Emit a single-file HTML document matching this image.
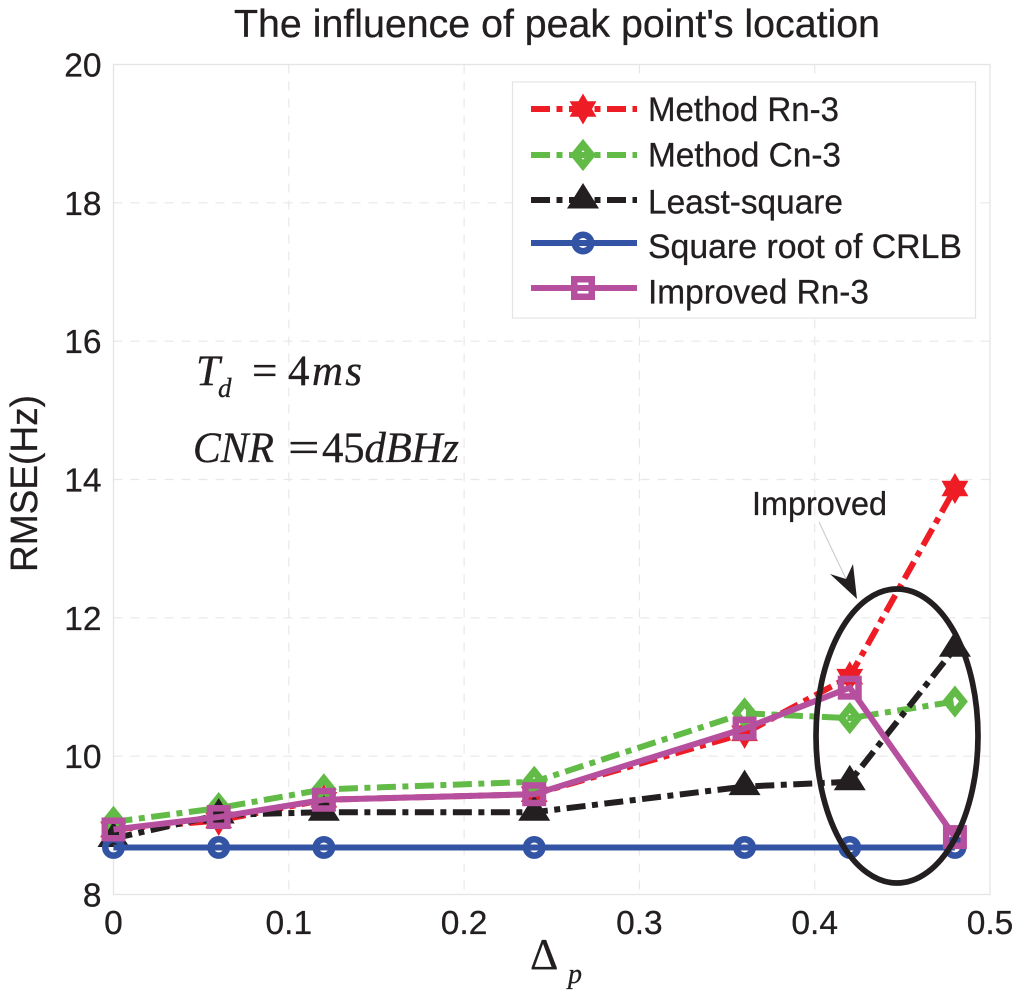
<!DOCTYPE html>
<html lang="en">
<head>
<meta charset="utf-8">
<title>The influence of peak point's location</title>
<style>
html,body{margin:0;padding:0;background:#fff;}
svg{display:block;}
text{font-family:"Liberation Sans",sans-serif;fill:#231f20;stroke:#231f20;stroke-width:0.3px;}
.math{font-family:"Liberation Serif",serif;font-style:italic;}
.up{font-family:"Liberation Serif",serif;font-style:normal;}
</style>
</head>
<body>
<svg id="chart" xmlns="http://www.w3.org/2000/svg" width="1024" height="997" viewBox="0 0 1024 997">
  <g id="grid"></g>
  <rect x="113.5" y="64.5" width="876.5" height="830" fill="none" stroke="#e4e4e4" stroke-width="1.3"/>
  <g id="xticks"></g>
  <g id="yticks"></g>
  <g id="series"></g>

  <text x="234" y="37" font-size="39" textLength="646" lengthAdjust="spacingAndGlyphs">The influence of peak point's location</text>
  <text transform="translate(37 572) rotate(-90)" font-size="38" textLength="177" lengthAdjust="spacingAndGlyphs">RMSE(Hz)</text>
  <text class="up" x="530" y="969" font-size="44">Δ</text>
  <text class="math" x="568" y="983" font-size="28">p</text>

  <text class="math" x="196" y="385" font-size="43">T</text>
  <text class="math" x="218" y="397" font-size="27">d</text>
  <text class="up" transform="translate(252 385) scale(1.05 1)" font-size="43">=</text>
  <text class="math" x="288" y="385" font-size="43" textLength="74" lengthAdjust="spacing"><tspan class="up">4</tspan>ms</text>
  <text class="math" x="193" y="462" font-size="43" textLength="81" lengthAdjust="spacingAndGlyphs">CNR</text>
  <text class="up" transform="translate(288 462) scale(1.3 1)" font-size="43">=</text>
  <text class="math" x="322" y="462" font-size="43" textLength="137" lengthAdjust="spacing"><tspan class="up">45</tspan>dBHz</text>

  <ellipse cx="897" cy="736" rx="81" ry="147" fill="none" stroke="#231f20" stroke-width="5.7"/>
  <line x1="819" y1="522" x2="846" y2="579" stroke="#c8c8c8" stroke-width="1"/>
  <polygon points="857,599 830,574 846,579 853,564" fill="#231f20"/>
  <text x="752" y="515" font-size="33" textLength="135" lengthAdjust="spacingAndGlyphs">Improved</text>

  <g id="legend">
    <rect x="512.5" y="82" width="463" height="236" fill="#fff" stroke="#e4e4e4" stroke-width="1.2"/>
  </g>
</svg>
<script>
var xValues = [0, 0.06, 0.12, 0.24, 0.36, 0.42, 0.48];
var xTickValues = [0, 0.1, 0.2, 0.3, 0.4, 0.5];
var xTickLabels = ['0', '0.1', '0.2', '0.3', '0.4', '0.5'];
var yTickValues = [8, 10, 12, 14, 16, 18, 20];
var yTickLabels = ['8', '10', '12', '14', '16', '18', '20'];
var seriesNames = ['Method Rn-3', 'Method Cn-3', 'Least-square', 'Square root of CRLB', 'Improved Rn-3'];
var methodRn3 = [8.94, 9.07, 9.37, 9.45, 10.33, 11.15, 13.87];
var methodCn3 = [9.05, 9.25, 9.52, 9.63, 10.62, 10.55, 10.79];
var leastSquare = [8.81, 9.15, 9.19, 9.19, 9.56, 9.63, 11.56];
var crlbRoot = [8.68, 8.68, 8.68, 8.68, 8.68, 8.68, 8.68];
var improvedRn3 = [8.94, 9.12, 9.37, 9.45, 10.4, 10.99, 8.83];

var NS = 'http://www.w3.org/2000/svg';
var X0 = 113.5, X1 = 990, Y8 = 894.5, Y20 = 64.5;
function xScale(v) { return X0 + (v - 0) / 0.5 * (X1 - X0); }
function yScale(v) { return Y8 - (v - 8) / 12 * (Y8 - Y20); }
function make(parent, tag, attrs) {
  var el = document.createElementNS(NS, tag);
  for (var k in attrs) { el.setAttribute(k, attrs[k]); }
  parent.appendChild(el);
  return el;
}
var grid = document.getElementById('grid');
xTickValues.slice(1, -1).forEach(function (v) {
  var gl = make(grid, 'line', {x1: xScale(v), x2: xScale(v), y1: Y20, y2: Y8, stroke: '#e8e8e8', 'stroke-width': 1.2, 'stroke-dasharray': '9 8'});
  
  
});
yTickValues.slice(1, -1).forEach(function (v) {
  var gl = make(grid, 'line', {x1: X0, x2: X1, y1: yScale(v), y2: yScale(v), stroke: '#e8e8e8', 'stroke-width': 1.2, 'stroke-dasharray': '9 8'});
  
  
});
var xt = document.getElementById('xticks');
xTickValues.forEach(function (v, i) {
  var t = make(xt, 'text', {x: xScale(v), y: 934, 'font-size': 33.5, 'text-anchor': 'middle'});
  t.textContent = xTickLabels[i];
  
  
});
var yt = document.getElementById('yticks');
yTickValues.forEach(function (v, i) {
  var t = make(yt, 'text', {x: 101.5, y: yScale(v) + 12, 'font-size': 33.5, 'text-anchor': 'end'});
  t.textContent = yTickLabels[i];
  
  
});

function starPoints(cx, cy) {
  var pts = [];
  for (var i = 0; i < 12; i++) {
    var r = i % 2 ? 9 : 15.5;
    var a = Math.PI / 6 * i - Math.PI / 2;
    pts.push((cx + r * Math.cos(a)).toFixed(2) + ',' + (cy + r * Math.sin(a)).toFixed(2));
  }
  return pts.join(' ');
}
function drawMarker(parent, kind, cx, cy, color) {
  var m;
  if (kind === 'star') {
    m = make(parent, 'polygon', {points: starPoints(cx, cy), fill: color});
  } else if (kind === 'diamond') {
    m = make(parent, 'polygon', {points: [cx, cy - 10.5, cx + 8.5, cy, cx, cy + 10.5, cx - 8.5, cy].join(' '), fill: 'none', stroke: color, 'stroke-width': 7});
  } else if (kind === 'triangle') {
    m = make(parent, 'polygon', {points: [cx, cy - 17, cx + 16, cy + 8.5, cx - 16, cy + 8.5].join(' '), fill: color});
  } else if (kind === 'circle') {
    m = make(parent, 'circle', {cx: cx, cy: cy, r: 8.2, fill: 'none', stroke: color, 'stroke-width': 6.5});
  } else {
    m = make(parent, 'rect', {x: cx - 8.75, y: cy - 8.75, width: 17.5, height: 17.5, fill: 'none', stroke: color, 'stroke-width': 6.5});
  }
  
  
}
var styles = [
  {key: 'method-rn3', values: methodRn3, color: '#ee1c25', dash: '19 6.5 6 6.5', marker: 'star', w: 6},
  {key: 'method-cn3', values: methodCn3, color: '#62bb46', dash: '19 6.5 6 6.5', marker: 'diamond', w: 6},
  {key: 'least-square', values: leastSquare, color: '#231f20', dash: '19 6.5 6 6.5', marker: 'triangle', w: 6},
  {key: 'crlb-root', values: crlbRoot, color: '#3353a4', dash: 'none', marker: 'circle', w: 6},
  {key: 'improved-rn3', values: improvedRn3, color: '#b6509e', dash: 'none', marker: 'square', w: 6}
];
var seriesG = document.getElementById('series');
styles.forEach(function (s) {
  var g = make(seriesG, 'g', {});
  
  
  var pts = xValues.map(function (x, i) { return xScale(x).toFixed(2) + ',' + yScale(s.values[i]).toFixed(2); }).join(' ');
  var line = make(g, 'polyline', {points: pts, fill: 'none', stroke: s.color, 'stroke-width': s.w, 'stroke-dasharray': s.dash, 'stroke-linejoin': 'miter'});
  
  
  xValues.forEach(function (x, i) {
    drawMarker(g, s.marker, xScale(x), yScale(s.values[i]), s.color);
  });
});

var legend = document.getElementById('legend');
var legendRows = [109, 155, 200, 243, 288];
var legendBaselines = [121, 166.7, 213.3, 258, 303.3];
var legendWidths = [191, 193, 195, 314, 221];
styles.forEach(function (s, i) {
  var row = make(legend, 'g', {});
  
  
  var y = legendRows[i];
  var ll = make(row, 'line', {x1: 531, x2: 637, y1: y, y2: y, stroke: s.color, 'stroke-width': s.w, 'stroke-dasharray': s.dash});
  
  
  drawMarker(row, s.marker, 583, y, s.color);
  var t = make(row, 'text', {x: 648, y: legendBaselines[i], 'font-size': 34, textLength: legendWidths[i], lengthAdjust: 'spacingAndGlyphs'});
  t.textContent = seriesNames[i];
  
  
});
</script>
</body>
</html>
